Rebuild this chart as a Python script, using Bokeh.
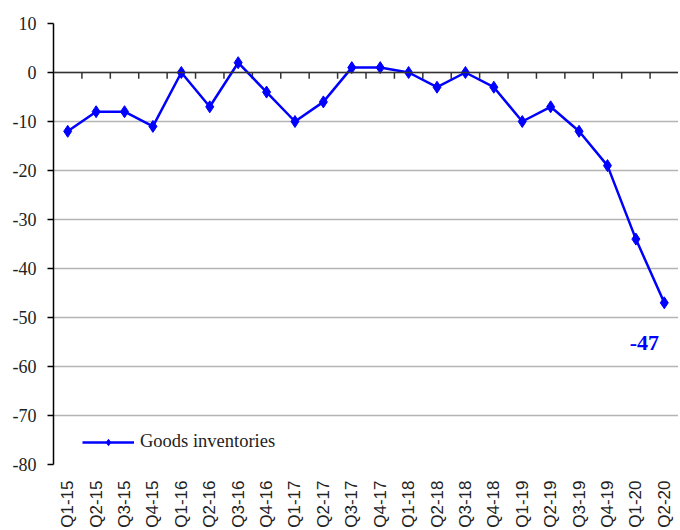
import math
from bokeh.plotting import figure
from bokeh.models import (ColumnDataSource, FactorRange, Range1d, SingleIntervalTicker, Span,
                          Legend, LegendItem, PrintfTickFormatter)
from bokeh.transform import dodge
from bokeh.core.properties import value
from bokeh.embed import file_html
from bokeh.resources import INLINE

quarters = ["Q1-15", "Q2-15", "Q3-15", "Q4-15", "Q1-16", "Q2-16", "Q3-16", "Q4-16",
            "Q1-17", "Q2-17", "Q3-17", "Q4-17", "Q1-18", "Q2-18", "Q3-18", "Q4-18",
            "Q1-19", "Q2-19", "Q3-19", "Q4-19", "Q1-20", "Q2-20"]
goods_inventories = [-12, -8, -8, -11, 0, -7, 2, -4, -10, -6, 1, 1, 0, -3, 0, -3,
                     -10, -7, -12, -19, -34, -47]
series_name = "Goods inventories"

SERIF = "'Liberation Serif', 'Times New Roman', serif"
SANS = "'Liberation Sans', Arial, sans-serif"
BLUE = "#0000ff"

src = ColumnDataSource(dict(q=quarters, v=goods_inventories))

p = figure(x_range=FactorRange(*quarters, range_padding=0), y_range=Range1d(-80, 10),
           width=678, height=530, output_backend="svg", toolbar_location=None,
           min_border_left=53, min_border_top=23, min_border_bottom=66, min_border_right=0)
p.outline_line_color = None
p.background_fill_color = "white"

# y axis
p.yaxis.ticker = SingleIntervalTicker(interval=10)
p.yaxis.formatter = PrintfTickFormatter(format="%d")
p.yaxis.axis_line_color = "black"
p.yaxis.axis_line_width = 1.5
p.yaxis.major_tick_line_color = "black"
p.yaxis.major_tick_line_width = 1.5
p.yaxis.major_tick_out = 6
p.yaxis.major_tick_in = 0
p.yaxis.minor_tick_line_color = None
p.yaxis.major_label_text_font = SERIF
p.yaxis.major_label_text_font_size = "18px"
p.yaxis.major_label_text_color = "#222222"
p.yaxis.major_label_standoff = 11
p.ygrid.grid_line_color = "#b4b4b4"
p.ygrid.grid_line_width = 1.5
p.xgrid.grid_line_color = None

# x axis (labels only at bottom)
p.xaxis.axis_line_color = None
p.xaxis.major_tick_line_color = None
p.xaxis.major_label_orientation = math.pi / 2
p.xaxis.major_label_text_font = SANS
p.xaxis.major_label_text_font_size = "17px"
p.xaxis.major_label_text_color = "#222222"
p.xaxis.major_label_standoff = 10

# category axis line at zero with ticks between categories
p.add_layout(Span(location=0, dimension="width", line_color="#333333", line_width=1.5))
tick_src = ColumnDataSource(dict(q=quarters[1:]))
p.segment(x0=dodge("q", -0.5, range=p.x_range), y0=0,
          x1=dodge("q", -0.5, range=p.x_range), y1=-1.3,
          source=tick_src, line_color="#333333", line_width=1.5)

# series
ln = p.line("q", "v", source=src, line_color=BLUE, line_width=2.5)
mk = p.scatter("q", "v", source=src, marker="diamond", size=12,
               fill_color=BLUE, line_color=BLUE)

# last value label
last_src = ColumnDataSource(dict(q=[quarters[-1]], v=[goods_inventories[-1]],
                                 t=[str(goods_inventories[-1])]))
p.text(x=dodge("q", -0.7, range=p.x_range), y="v", text="t", source=last_src,
       text_font=value(SERIF), text_font_size="22px", text_font_style="bold",
       text_color=BLUE, text_align="center", text_baseline="middle", y_offset=40)

# legend
legend = Legend(items=[LegendItem(label=series_name, renderers=[ln, mk])],
                location=(29, 12), glyph_width=52, glyph_height=16,
                label_text_font=SERIF, label_text_font_size="18.5px",
                label_text_color="#222222", border_line_color=None,
                background_fill_alpha=0, label_standoff=6, padding=4, margin=0)
p.add_layout(legend, "center")

open("out.html", "w").write(file_html(p, INLINE))
